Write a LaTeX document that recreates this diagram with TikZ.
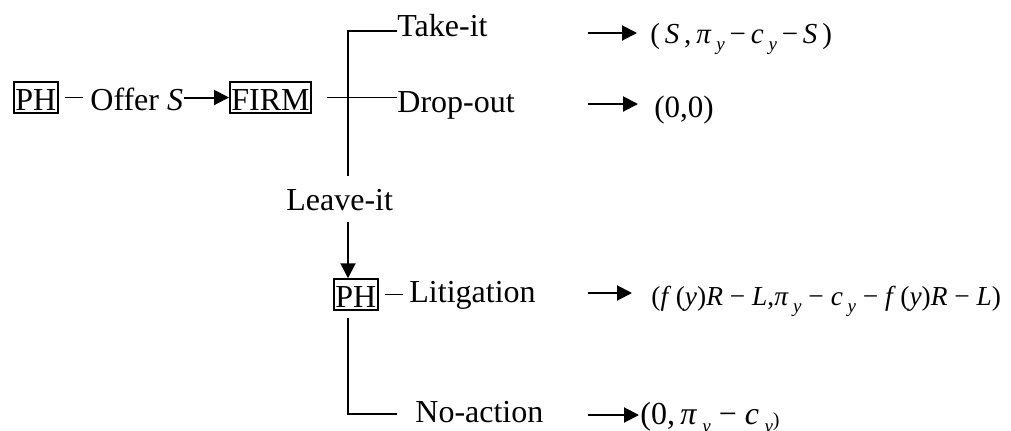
\documentclass[tikz,border=0pt]{standalone}
\usepackage{fontspec}
\setmainfont{Liberation Serif}
\usetikzlibrary{arrows.meta}
\newcommand\fsz[1]{\fontsize{#1}{#1}\selectfont}
\newcommand\sbs[2]{\raisebox{-#2ex}{\fsz{9.5}\itshape #1}}
\begin{document}
\begin{tikzpicture}[x=0.5pt,y=-0.5pt,font=\fsz{16},
  box/.style={draw,line width=0.75pt,inner xsep=0.8pt,inner ysep=1.5pt,text height=12.5pt,text depth=0pt},
  lbl/.style={inner sep=0pt},
  ln/.style={line width=0.75pt},
  thinln/.style={line width=0.45pt},
  arr/.style={line width=1pt,-{Triangle[length=7.5pt,width=7.5pt]}}]
\useasboundingbox (0,0) rectangle (1011,430);
% nodes
\node[box,anchor=base west] (ph1) at (13,110) {PH};
\node[lbl,anchor=base west] (offer) at (90,110) {Offer \textit{S}};
\node[box,anchor=base west] (firm) at (229,110) {FIRM};
\node[lbl,anchor=base west] (take) at (397,36) {Take-it};
\node[lbl,anchor=base west] (drop) at (397,112) {Drop-out};
\node[lbl,anchor=base west] (leave) at (286,210) {Leave-it};
\node[box,anchor=base west] (ph2) at (333,307) {PH};
\node[lbl,anchor=base west] (lit) at (409,302) {Litigation};
\node[lbl,anchor=base west] (noact) at (415,422) {No-action};
\node[lbl,anchor=base west,font=\fsz{14.5}] (f1) at (650,43)
  {(\,\textit{S}\,,\,\textit{π}\,\sbs{y}{0.6}\,−\,\textit{c}\,\sbs{y}{0.6}\,−\,\textit{S}\,)};
\node[lbl,anchor=base west,font=\fsz{15.5}] (f2) at (654,117) {(0,0)};
\node[lbl,anchor=base west,font=\fsz{13.7}] (f3) at (651,305)
  {(\textit{f}\,(\textit{y})\textit{R} − \textit{L},\textit{π}\,\sbs{y}{0.6} − \textit{c}\,\sbs{y}{0.6} − \textit{f}\,(\textit{y})\textit{R} − \textit{L})};
\node[lbl,anchor=base west,font=\fsz{16}] (f4) at (640,424)
  {(0,\,\textit{π}\,\sbs{y}{0.6} − \textit{c}\,\sbs{y}{0.6}\raisebox{-0.2ex}{\fsz{10})}};
% coordinates
\coordinate (vtop) at (348,31);
\coordinate (vmid) at (348,176);
\coordinate (vlo) at (348,222);
\coordinate (vph) at (348,318);
\coordinate (a1) at (588,33);
\coordinate (a2) at (588,104);
\coordinate (a3) at (588,293);
\coordinate (a4) at (588,415);
% connectors
\draw[thinln] ([xshift=3pt]ph1.east) -- ([xshift=-3.5pt]offer.west |- ph1.east);
\draw[arr] (offer.east |- firm.west) -- (firm.west);
\draw[ln] ([xshift=7.5pt]firm.east) -- (firm.east -| drop.west);
\draw[ln] ([yshift=2.5pt]take.base west) -- (vtop) -- (vmid);
\draw[arr] (vlo) -- (vlo |- ph2.north);
\draw[thinln] ([xshift=3pt]ph2.east) -- ([xshift=-3pt]lit.west |- ph2.east);
\draw[ln] (vph) |- ([shift={(-9pt,4pt)}]noact.base west);
\draw[arr] (a1) -- ([xshift=-6.5pt]f1.base west |- a1);
\draw[arr] (a2) -- ([xshift=-8pt]f2.base west |- a2);
\draw[arr] (a3) -- ([xshift=-9.5pt]f3.base west |- a3);
\draw[arr] (a4) -- ([xshift=-0.5pt]f4.base west |- a4);
\end{tikzpicture}
\end{document}
